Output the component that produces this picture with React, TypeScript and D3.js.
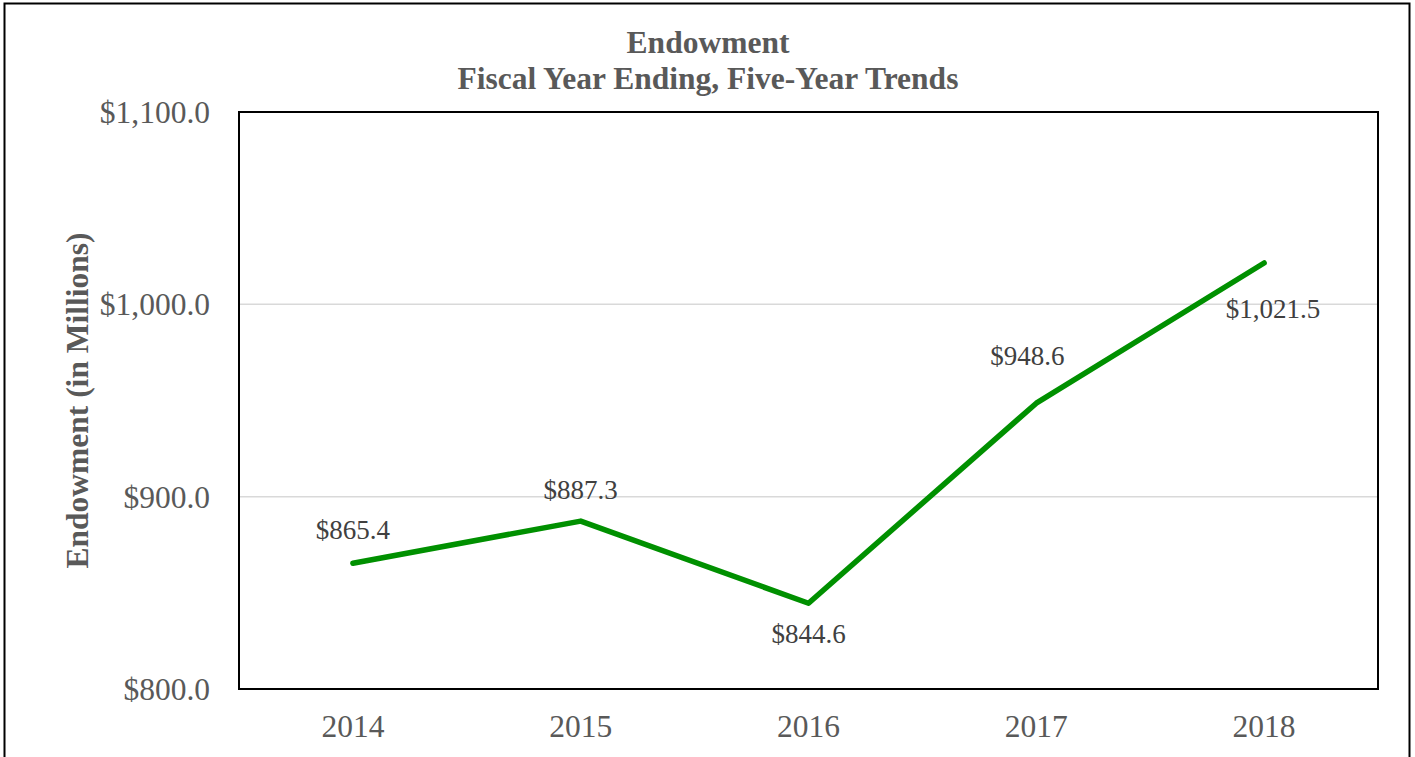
import React from "react";
import * as d3 from "d3";

const years = ["2014", "2015", "2016", "2017", "2018"];
const values = [865.4, 887.3, 844.6, 948.6, 1021.5];
const yTicks = [800, 900, 1000, 1100];

// label offsets (layout only)
const labelDx = [0, 0, 0, -9, 9];
const labelDy = [-24, -22, 40, -38, 55];

export default function App() {
  const W = 1415, H = 757;
  const left = 239, right = 1378, top = 112, bottom = 689;
  const x = d3.scaleBand().domain(years).range([left, right]);
  const y = d3.scaleLinear().domain([800, 1100]).range([bottom, top]);
  const cxOf = (i: number) => (x(years[i]) as number) + x.bandwidth() / 2;
  const line = d3
    .line<number>()
    .x((_, i) => cxOf(i))
    .y((d) => y(d));
  const fmt = (v: number) => "$" + d3.format(",.1f")(v);
  const font = "'Liberation Serif', 'Times New Roman', serif";
  return (
    <svg
      width={W}
      height={H}
      style={{ position: "absolute", left: 0, top: 0, background: "#fff" }}
      fontFamily={font}
    >
      <rect x={4.5} y={3.5} width={1405} height={H + 10} fill="none" stroke="#000" strokeWidth={2} />
      <text x={708} y={53} textAnchor="middle" fontSize={31.5} fontWeight="bold" fill="#595959">Endowment</text>
      <text x={708} y={89} textAnchor="middle" fontSize={31.5} fontWeight="bold" fill="#595959">Fiscal Year Ending, Five-Year Trends</text>
      {yTicks.filter((t) => t !== 800 && t !== 1100).map((t) => (
        <line key={t} x1={left} x2={right} y1={y(t)} y2={y(t)} stroke="#d9d9d9" strokeWidth={1.5} />
      ))}
      <rect x={left} y={top} width={right - left} height={bottom - top} fill="none" stroke="#000" strokeWidth={2} />
      {yTicks.map((t) => (
        <text key={t} x={210} y={y(t) + 11} textAnchor="end" fontSize={31.5} fill="#595959">{fmt(t)}</text>
      ))}
      {years.map((yr, i) => (
        <text key={yr} x={cxOf(i)} y={737} textAnchor="middle" fontSize={31.5} fill="#595959">{yr}</text>
      ))}
      <text transform={`translate(88,${(top + bottom) / 2}) rotate(-90)`} textAnchor="middle" fontSize={31.5} fontWeight="bold" fill="#595959">Endowment (in Millions)</text>
      <path d={line(values) || ""} fill="none" stroke="#009000" strokeWidth={5.5} strokeLinejoin="round" strokeLinecap="round" />
      {values.map((v, i) => (
        <text key={i} x={cxOf(i) + labelDx[i]} y={y(v) + labelDy[i]} textAnchor="middle" fontSize={27} fill="#404040">{fmt(v)}</text>
      ))}
    </svg>
  );
}
